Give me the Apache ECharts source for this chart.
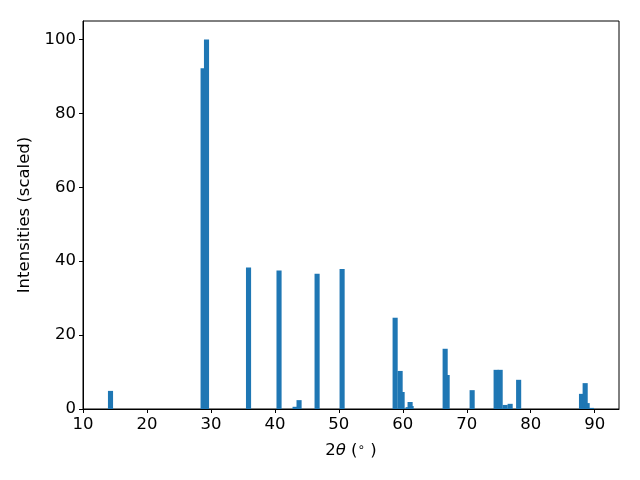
<!DOCTYPE html>
<html>
<head>
<meta charset="utf-8">
<script src="https://cdn.jsdelivr.net/npm/echarts@6/dist/echarts.min.js"></script>
<style>html,body{margin:0;padding:0;background:#fff}#c{width:640px;height:480px}</style>
</head>
<body>
<div id="c"></div>
<script>
// Peak positions (2θ, degrees) and scaled intensities
var positions = [14.30, 28.78, 29.31, 35.88, 40.65, 43.16, 43.78, 46.60, 50.51,
  58.80, 59.58, 59.89, 60.83, 61.14, 61.30, 66.62, 66.93, 70.84,
  74.59, 75.22, 76.00, 76.78, 78.11, 87.94, 88.51, 88.82, 89.48];
var intensities = [4.9, 92.2, 100, 38.3, 37.5, 0.6, 2.4, 36.6, 37.9,
  24.7, 10.3, 4.6, 0.5, 1.9, 0.8, 16.3, 9.2, 5.1,
  10.6, 10.6, 1.1, 1.4, 7.9, 4.1, 7.0, 1.6, 0.3];
var xTicks = [10, 20, 30, 40, 50, 60, 70, 80, 90];
var yTicks = [0, 20, 40, 60, 80, 100];

var BAR_W = 0.8;
var data = positions.map(function (p, i) { return [p, intensities[i]]; });
var font = 'DejaVu Sans';
var FS = 16.5;
var chart = echarts.init(document.getElementById('c'), null, {renderer: 'canvas'});
chart.setOption({
  animation: false,
  backgroundColor: '#fff',
  grid: {left: 83, right: 21, top: 21, bottom: 71, show: true, borderColor: '#000', borderWidth: 1, backgroundColor: 'transparent'},
  xAxis: {
    type: 'value', min: 10, max: 93.8,
    splitLine: {show: false},
    axisLine: {show: true, onZero: false, lineStyle: {color: '#000', width: 1}},
    axisTick: {show: true, length: 4, lineStyle: {color: '#000', width: 1}, customValues: xTicks},
    axisLabel: {color: '#000', fontFamily: font, fontSize: FS, margin: 7, customValues: xTicks},
    name: '{n|2}{i|θ}{n| (}{s|∘}{n| )}',
    nameLocation: 'middle', nameGap: 33,
    nameTextStyle: {
      color: '#000', fontFamily: font, fontSize: FS,
      rich: {
        n: {fontFamily: font, fontSize: FS, color: '#000'},
        i: {fontFamily: font, fontSize: FS, fontStyle: 'italic', color: '#000'},
        s: {fontFamily: font, fontSize: 12, color: '#000', verticalAlign: 'top'}
      }
    }
  },
  yAxis: {
    type: 'value', min: 0, max: 105,
    splitLine: {show: false},
    axisLine: {show: true, lineStyle: {color: '#000', width: 1}},
    axisTick: {show: true, length: 4, lineStyle: {color: '#000', width: 1}, customValues: yTicks},
    axisLabel: {color: '#000', fontFamily: font, fontSize: FS, margin: 7, customValues: yTicks},
    name: 'Intensities (scaled)',
    nameLocation: 'middle', nameGap: 50,
    nameTextStyle: {color: '#000', fontFamily: font, fontSize: FS}
  },
  series: [{
    type: 'custom',
    clip: true,
    data: data,
    encode: {x: 0, y: 1},
    renderItem: function (params, api) {
      var x = api.value(0), y = api.value(1);
      var p0 = api.coord([x - BAR_W / 2, 0]);
      var p1 = api.coord([x + BAR_W / 2, y]);
      return {
        type: 'rect',
        shape: {x: p0[0], y: p1[1], width: p1[0] - p0[0], height: p0[1] - p1[1]},
        style: {fill: '#1f77b4'}
      };
    }
  }]
});
</script>
</body>
</html>
